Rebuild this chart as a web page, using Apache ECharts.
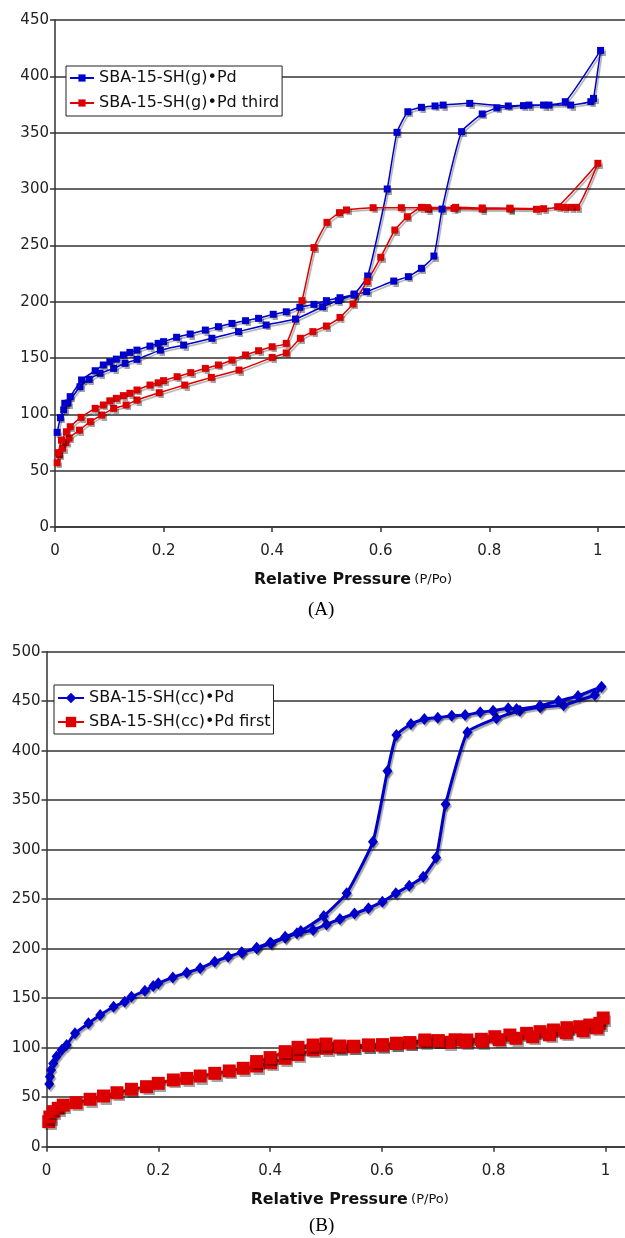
<!DOCTYPE html>
<html>
<head>
<meta charset="utf-8">
<script src="https://cdn.jsdelivr.net/npm/echarts@6/dist/echarts.min.js"></script>
<style>
html,body{margin:0;padding:0;background:#fff;}
#chart{width:625px;height:1238px;}
</style>
</head>
<body>
<div id="chart"></div>
<script>
// ---------- Chart A : SBA-15-SH(g)•Pd ----------
const nameA1 = 'SBA-15-SH(g)•Pd';
const pA1 = [0.004,0.010,0.016,0.024,0.046,0.063,0.083,0.108,0.129,0.151,0.194,0.237,0.289,0.338,0.389,0.443,0.493,0.522,0.551,0.574,0.624,0.651,0.675,0.698,0.713,0.749,0.787,0.814,0.863,0.900,0.940,1.005,
             0.992,0.987,0.950,0.910,0.873,0.835,0.764,0.715,0.700,0.675,0.650,0.630,0.612,0.576,0.551,0.525,0.500,0.477,0.451,0.426,0.402,0.375,0.351,0.326,0.301,0.277,0.249,0.224,0.200,0.190,0.175,0.151,0.138,0.126,0.113,0.101,0.089,0.074,0.049,0.028,0.018];
const vA1 = [84,97,104,110,124.5,131,136.4,140.8,145.3,148.8,157,161.5,167.5,173.4,179.3,184.6,195.5,201,205.9,208.9,218.3,222.2,229.6,240.5,282.2,350.9,366.6,372,374,374.5,377.5,423,
             380.4,377.5,374.5,374.5,374.5,373.7,376,374.5,373.7,372.5,368.6,350.3,300,222.8,206.8,203.5,200.9,197.6,195,191,188.8,185.2,183.1,180.7,177.8,174.8,171.3,168.4,164.5,163,160.6,157,155,152.7,149,146.7,143.8,138.7,130.5,115.7,109.8];

// ---------- Chart A : SBA-15-SH(g)•Pd third ----------
const nameA2 = 'SBA-15-SH(g)•Pd third';
const pA2 = [0.004,0.008,0.014,0.020,0.026,0.045,0.065,0.086,0.108,0.131,0.151,0.192,0.239,0.288,0.339,0.400,0.426,0.452,0.475,0.500,0.525,0.549,0.575,0.600,0.626,0.649,0.675,0.688,0.735,0.787,0.838,0.887,0.926,1.000,
             0.961,0.950,0.938,0.900,0.838,0.787,0.738,0.686,0.638,0.586,0.537,0.524,0.501,0.477,0.455,0.426,0.400,0.375,0.351,0.326,0.301,0.277,0.250,0.225,0.200,0.190,0.175,0.151,0.138,0.126,0.113,0.101,0.089,0.074,0.048,0.028,0.021,0.012,0.006];
const vA2 = [57,64,70,75,79,86,93.5,99.4,105.3,108.3,112.7,119.2,126,132.8,139.3,150.5,154.5,167.5,173.4,178.4,186,198,218,239.4,263.6,275.4,283.7,282.2,282.8,282.2,282.2,282,284.3,322.8,
             283.7,283.7,283.7,282.5,283,283.2,283.7,283.5,283.4,283.4,281.4,279,270.4,248,200.9,163,160,156.5,152.7,148.2,143.8,140.8,137,133.4,129.9,128,126,121.6,118.7,116.6,114.2,112,108.3,105.3,97.3,89,84.5,77,66];

// ---------- Chart B : SBA-15-SH(cc)•Pd ----------
const nameB1 = 'SBA-15-SH(cc)•Pd';
const pB1 = [0.005,0.006,0.008,0.012,0.018,0.027,0.036,0.051,0.075,0.096,0.120,0.140,0.152,0.176,0.191,0.200,0.226,0.251,0.275,0.301,0.325,0.349,0.376,0.402,0.427,0.448,0.477,0.501,0.525,0.551,0.576,0.601,0.625,0.649,0.674,0.697,0.714,0.753,0.805,0.847,0.883,0.925,0.981,0.993,
             0.951,0.916,0.883,0.841,0.826,0.799,0.776,0.749,0.725,0.700,0.676,0.652,0.626,0.610,0.584,0.537,0.496,0.455,0.427,0.400,0.376,0.350];
const vB1 = [63.3,70.7,77.5,84,91,97.7,102.7,114.5,124.6,133,141.4,146.5,151.5,157.6,162.3,165,171,175.8,180.2,186.9,191.9,196.3,200.4,205.4,211.1,215.6,218.9,224.5,230,235.5,240.8,247.5,256,263.5,272.7,292,345.9,418.6,432.7,440.4,444,446,456.3,464.6,
             455.3,450.2,445.5,442,442.8,440.4,438.8,436,435.4,433.3,432,427,415.9,379.5,308,256,233,218,212,206,201,196];

// ---------- Chart B : SBA-15-SH(cc)•Pd first ----------
const nameB2 = 'SBA-15-SH(cc)•Pd first';
const pB2 = [0.004,0.006,0.012,0.021,0.030,0.053,0.078,0.102,0.126,0.152,0.179,0.200,0.227,0.251,0.275,0.301,0.327,0.352,0.376,0.401,0.427,0.450,0.477,0.501,0.525,0.550,0.576,0.601,0.626,0.650,0.677,0.701,0.731,0.752,0.778,0.802,0.829,0.859,0.883,0.907,0.931,0.954,0.972,0.990,0.996,
             0.985,0.960,0.930,0.900,0.870,0.840,0.810,0.780,0.750,0.720,0.700,0.677,0.650,0.626,0.601,0.576,0.549,0.525,0.500,0.477,0.450,0.427,0.400,0.376];
const vB2 = [25.3,30,35.4,38.8,42,44.4,47.9,51.2,54.5,58,60.6,64,67.4,69,71.4,74.1,76.5,79.2,81.5,84.8,89.3,93,97.7,99.4,100.5,101.5,102.5,103,104.4,105,106.5,107,108,107.8,108.5,111.1,112.8,114.5,116.2,117.9,120.2,121.2,122.9,124.6,130,
             120,117,115,113,111,109.5,108,106.5,106,105.5,107,107.8,105,104.4,102.7,102.7,101,101.7,103.7,102.7,100.4,96,90,86];

// ---------- axes ----------
const xTicks = [0, 0.2, 0.4, 0.6, 0.8, 1];
const yMaxA = 450, yMaxB = 500, yStep = 50;
const xAxisName = 'Relative Pressure';
const xAxisUnit = '(P/Po)';
const capA = '(A)', capB = '(B)';

const BLUE = '#0000CC', RED = '#DD0000';
const FONT = 'DejaVu Sans';
const zip = (a, b) => a.map((x, i) => [x, b[i]]);

const shadow = {shadowColor: 'rgba(0,0,0,0.35)', shadowOffsetX: 1.5, shadowOffsetY: 2, shadowBlur: 1};

function xAxis(gridIndex, max, padLeft) {
  return {
    type: 'value', gridIndex, min: 0, max, interval: 0.2,
    axisLine: {show: true, lineStyle: {color: '#333', width: 1.5}},
    axisTick: {show: true, length: 5, inside: false, lineStyle: {color: '#333', width: 1.5}},
    axisLabel: {color: '#222', fontFamily: FONT, fontSize: 15, margin: 17, showMaxLabel: false,
      formatter: v => xTicks.some(t => Math.abs(t - v) < 1e-6) ? String(+v.toFixed(1)) : ''},
    splitLine: {show: false},
    name: '{b|' + xAxisName + '} {s|' + xAxisUnit + '}',
    nameLocation: 'middle', nameGap: 45,
    nameTextStyle: {padding: [0, 0, 0, padLeft], rich: {
      b: {fontFamily: FONT, fontWeight: 'bold', fontSize: 15.8, color: '#111'},
      s: {fontFamily: FONT, fontSize: 13, color: '#111'}}}
  };
}
function yAxis(gridIndex, max) {
  return {
    type: 'value', gridIndex, min: 0, max, interval: yStep,
    axisLine: {show: true, lineStyle: {color: '#333', width: 1.5}},
    axisTick: {show: true, length: 5, lineStyle: {color: '#333', width: 1.5}},
    axisLabel: {color: '#222', fontFamily: FONT, fontSize: 15, margin: 6},
    splitLine: {show: true, lineStyle: {color: '#333', width: 1.5}}
  };
}
function series(name, p, v, xi, color, symbol, size, lw) {
  return {
    name, type: 'line', xAxisIndex: xi, yAxisIndex: xi,
    data: zip(p, v), symbol, symbolSize: size, smooth: 0.15,
    showAllSymbol: true,
    lineStyle: Object.assign({color, width: lw}, shadow),
    itemStyle: Object.assign({color, borderWidth: 0}, shadow),
    emphasis: {disabled: true}
  };
}

const chart = echarts.init(document.getElementById('chart'), null, {renderer: 'canvas'});
chart.setOption({
  animation: false,
  backgroundColor: '#fff',
  grid: [
    {left: 55, top: 20, right: 0, height: 507},
    {left: 46.5, top: 651.7, right: 0, height: 495}
  ],
  xAxis: [xAxis(0, 1.05, 26), xAxis(1, 1.035, 28)],
  yAxis: [yAxis(0, yMaxA), yAxis(1, yMaxB)],
  legend: [
    {data: [nameA1, nameA2], orient: 'vertical', left: 66, top: 66,
     padding: [4, 3, 5, 3], itemGap: 9, itemWidth: 24, itemHeight: 9,
     borderColor: '#222', borderWidth: 1, backgroundColor: '#fff',
     textStyle: {fontFamily: FONT, fontSize: 16, lineHeight: 16, color: '#111'}},
    {data: [nameB1, nameB2], orient: 'vertical', left: 54, top: 685,
     padding: [5, 3, 4, 3], itemGap: 8, itemWidth: 26, itemHeight: 13,
     borderColor: '#222', borderWidth: 1, backgroundColor: '#fff',
     textStyle: {fontFamily: FONT, fontSize: 16, lineHeight: 16, color: '#111'}}
  ],
  graphic: [
    {type: 'text', left: 308, top: 601, style: {text: capA, font: '19px "Liberation Serif"', fill: '#000'}},
    {type: 'text', left: 309, top: 1217, style: {text: capB, font: '19px "Liberation Serif"', fill: '#000'}}
  ],
  series: [
    series(nameA1, pA1, vA1, 0, BLUE, 'rect', 7, 1.5),
    series(nameA2, pA2, vA2, 0, RED, 'rect', 7, 1.5),
    series(nameB1, pB1, vB1, 1, BLUE, 'diamond', [10, 12], 3),
    series(nameB2, pB2, vB2, 1, RED, 'rect', 13, 3)
  ]
});
</script>
</body>
</html>
